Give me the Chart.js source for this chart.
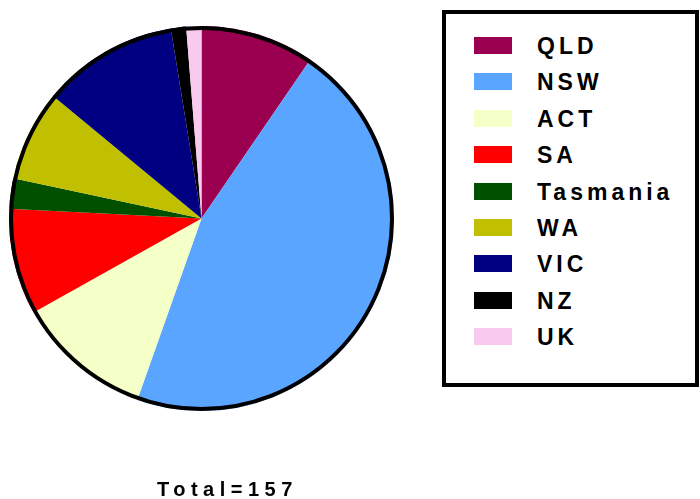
<!DOCTYPE html>
<html>
<head>
<meta charset="utf-8">
<script src="https://cdn.jsdelivr.net/npm/chart.js@4"></script>
<style>
  html, body { margin: 0; padding: 0; background: #fff; }
  #wrap { position: relative; width: 700px; height: 499px; overflow: hidden; }
  #pie { position: absolute; left: 0; top: 0; }
  #legend {
    position: absolute; left: 442px; top: 10px;
    width: 249px; height: 369px;
    border: 4px solid #000; background: #fff;
  }
  .legend-item { position: absolute; left: 28px; height: 18px; }
  .legend-color { position: absolute; left: 0; top: 0; width: 38px; height: 17px; }
  .legend-name {
    position: absolute; left: 63px; top: -2px;
    font: bold 23px/23px "Liberation Sans", Arial, sans-serif;
    letter-spacing: 4px; white-space: nowrap; color: #000;
  }
  #total {
    position: absolute; left: 157px; top: 479px;
    font: bold 20px/20px "Liberation Sans", Arial, sans-serif;
    letter-spacing: 5.5px; color: #000; white-space: nowrap;
  }
</style>
</head>
<body>
<div id="wrap">
  <canvas id="pie" width="700" height="499"></canvas>
  <div id="legend"></div>
  <div id="total">Total=157</div>
</div>
<script>
'use strict';

const REGIONS = ['QLD', 'NSW', 'ACT', 'SA', 'Tasmania', 'WA', 'VIC', 'NZ', 'UK'];
const COUNTS  = [15, 72, 18, 14, 4, 12, 18, 2, 2];
const COLORS  = ['#9B0050', '#5AA5FF', '#F5FFC8', '#FF0000', '#005000', '#C0C000', '#000080', '#000000', '#F9C9F0'];

// thick black rim round the whole pie, none between slices
const rimPlugin = {
  id: 'rim',
  afterDatasetsDraw(chart) {
    const arc = chart.getDatasetMeta(0).data[0];
    if (!arc) return;
    const ctx = chart.ctx;
    ctx.save();
    ctx.beginPath();
    ctx.arc(arc.x, arc.y, arc.outerRadius - 2, 0, Math.PI * 2);
    ctx.lineWidth = 4;
    ctx.strokeStyle = '#000';
    ctx.stroke();
    ctx.restore();
  },
};

new Chart(document.getElementById('pie'), {
  type: 'pie',
  data: {
    labels: REGIONS,
    datasets: [{
      data:            COUNTS,
      backgroundColor: COLORS,
      borderWidth:     0,
    }],
  },
  options: {
    responsive: false,
    animation:  false,
    layout: { padding: { left: 9, top: 26, right: 306, bottom: 88 } },
    plugins: {
      legend:  { display: false },
      tooltip: { enabled: false },
    },
  },
  plugins: [rimPlugin],
});

function renderLegend(containerId) {
  const container = document.getElementById(containerId);
  container.innerHTML = REGIONS.map((name, i) => `
    <div class="legend-item" style="top:${23 + i * 36.4}px">
      <div class="legend-color" style="background:${COLORS[i]}"></div>
      <span class="legend-name">${name}</span>
    </div>`).join('');
}
renderLegend('legend');
</script>
</body>
</html>
